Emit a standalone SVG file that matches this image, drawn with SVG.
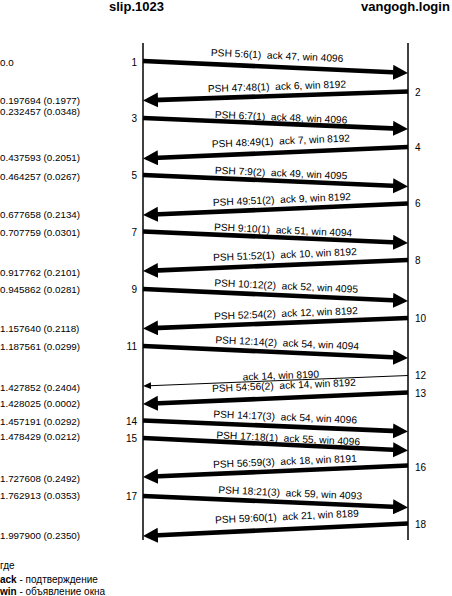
<svg xmlns="http://www.w3.org/2000/svg" width="452" height="596" viewBox="0 0 452 596">
<style>
text{font-family:"Liberation Sans",Arial,sans-serif;fill:#000}
.hdr{font-size:13px;font-weight:bold}
.t{font-size:9.8px}
.n{font-size:10px}
.nl{text-anchor:end}
.lbl{font-size:10.2px;text-anchor:middle;white-space:pre}
.life{stroke:#000;stroke-width:1.5}
.big{stroke:#000;stroke-width:4.6;fill:none;marker-end:url(#ah)}
.thin{stroke:#000;stroke-width:1;fill:none;marker-end:url(#ahs)}
.leg{font-size:10px}
</style>
<defs>
<marker id="ah" markerUnits="userSpaceOnUse" markerWidth="16" markerHeight="16" refX="5" refY="7.5" orient="auto">
<path d="M0,0 L15,7.5 L0,15 z" fill="#000"/>
</marker>
<marker id="ahs" markerUnits="userSpaceOnUse" markerWidth="10" markerHeight="8" refX="2" refY="3.5" orient="auto">
<path d="M0,0 L8,3.5 L0,7 z" fill="#000"/>
</marker>
</defs>
<g id="host-slip">
<text class="hdr" x="109" y="10.8">slip.1023</text>
<line class="life" x1="143" y1="43" x2="143" y2="540"/>
</g>
<g id="host-vangogh">
<text class="hdr" x="361" y="10.8">vangogh.login</text>
<line class="life" x1="408" y1="43" x2="408" y2="540"/>
</g>
<g id="times">
<text class="t" x="0" y="65.5">0.0</text>
<text class="t" x="0" y="103.5">0.197694 (0.1977)</text>
<text class="t" x="0" y="114.5">0.232457 (0.0348)</text>
<text class="t" x="0" y="160.5">0.437593 (0.2051)</text>
<text class="t" x="0" y="179.5">0.464257 (0.0267)</text>
<text class="t" x="0" y="217.5">0.677658 (0.2134)</text>
<text class="t" x="0" y="235.5">0.707759 (0.0301)</text>
<text class="t" x="0" y="275.5">0.917762 (0.2101)</text>
<text class="t" x="0" y="292.5">0.945862 (0.0281)</text>
<text class="t" x="0" y="331.5">1.157640 (0.2118)</text>
<text class="t" x="0" y="349.5">1.187561 (0.0299)</text>
<text class="t" x="0" y="390.5">1.427852 (0.2404)</text>
<text class="t" x="0" y="406.5">1.428025 (0.0002)</text>
<text class="t" x="0" y="424.5">1.457191 (0.0292)</text>
<text class="t" x="0" y="439.5">1.478429 (0.0212)</text>
<text class="t" x="0" y="481.5">1.727608 (0.2492)</text>
<text class="t" x="0" y="498.5">1.762913 (0.0353)</text>
<text class="t" x="0" y="538.5">1.997900 (0.2350)</text>
</g>
<g id="seq-left">
<text class="n nl" x="137" y="65.5">1</text>
<text class="n nl" x="137" y="121.5">3</text>
<text class="n nl" x="137" y="178.5">5</text>
<text class="n nl" x="137" y="235.5">7</text>
<text class="n nl" x="137" y="292.5">9</text>
<text class="n nl" x="137" y="349.5">11</text>
<text class="n nl" x="137" y="424.5">14</text>
<text class="n nl" x="137" y="441.5">15</text>
<text class="n nl" x="137" y="499.5">17</text>
</g>
<g id="seq-right">
<text class="n" x="415" y="95.5">2</text>
<text class="n" x="415" y="150.5">4</text>
<text class="n" x="415" y="207">6</text>
<text class="n" x="415" y="264">8</text>
<text class="n" x="415" y="321.5">10</text>
<text class="n" x="415" y="378.5">12</text>
<text class="n" x="415" y="396.5">13</text>
<text class="n" x="415" y="470.5">16</text>
<text class="n" x="415" y="527.5">18</text>
</g>
<g id="connectors">
<line class="big" x1="143" y1="61" x2="398" y2="72.55"/>
<line class="big" x1="408" y1="91.5" x2="153" y2="100.16"/>
<line class="big" x1="143" y1="118" x2="398" y2="128.58"/>
<line class="big" x1="408" y1="147" x2="153" y2="158.06"/>
<line class="big" x1="143" y1="175" x2="398" y2="186.07"/>
<line class="big" x1="408" y1="203.5" x2="153" y2="214.56"/>
<line class="big" x1="143" y1="231.5" x2="398" y2="242.56"/>
<line class="big" x1="408" y1="260" x2="153" y2="270.58"/>
<line class="big" x1="143" y1="289" x2="398" y2="300.55"/>
<line class="big" x1="408" y1="318" x2="153" y2="328.1"/>
<line class="big" x1="143" y1="346" x2="398" y2="357.55"/>
<line class="thin" x1="408" y1="375.5" x2="149" y2="385.76"/>
<line class="big" x1="408" y1="392.5" x2="153" y2="403.56"/>
<line class="big" x1="143" y1="420.5" x2="398" y2="431.08"/>
<line class="big" x1="143" y1="438" x2="398" y2="450.03"/>
<line class="big" x1="408" y1="465.5" x2="153" y2="476.56"/>
<line class="big" x1="143" y1="496" x2="398" y2="507.06"/>
<line class="big" x1="408" y1="523.5" x2="153" y2="535.53"/>
</g>
<g id="labels">
<text class="lbl" x="277" y="59" transform="rotate(2.59 277 59)">PSH 5:6(1)  ack 47, win 4096</text>
<text class="lbl" x="277" y="89.95" transform="rotate(-1.95 277 89.95)">PSH 47:48(1)  ack 6, win 8192</text>
<text class="lbl" x="281" y="120.7" transform="rotate(2.38 281 120.7)">PSH 6:7(1)  ack 48, win 4096</text>
<text class="lbl" x="281" y="144.5" transform="rotate(-2.48 281 144.5)">PSH 48:49(1)  ack 7, win 8192</text>
<text class="lbl" x="281" y="176.5" transform="rotate(2.48 281 176.5)">PSH 7:9(2)  ack 49, win 4095</text>
<text class="lbl" x="282" y="202.97" transform="rotate(-2.48 282 202.97)">PSH 49:51(2)  ack 9, win 8192</text>
<text class="lbl" x="283" y="233.5" transform="rotate(2.48 283 233.5)">PSH 9:10(1)  ack 51, win 4094</text>
<text class="lbl" x="285" y="258" transform="rotate(-2.38 285 258)">PSH 51:52(1)  ack 10, win 8192</text>
<text class="lbl" x="286" y="289.48" transform="rotate(2.59 286 289.48)">PSH 10:12(2)  ack 52, win 4095</text>
<text class="lbl" x="286" y="316.83" transform="rotate(-2.27 286 316.83)">PSH 52:54(2)  ack 12, win 8192</text>
<text class="lbl" x="287" y="346.52" transform="rotate(2.59 287 346.52)">PSH 12:14(2)  ack 54, win 4094</text>
<text class="lbl" x="281" y="379" transform="rotate(-2.27 281 379)">ack 14, win 8190</text>
<text class="lbl" x="284" y="388.88" transform="rotate(-2.48 284 388.88)">PSH 54:56(2)  ack 14, win 8192</text>
<text class="lbl" x="285" y="420.39" transform="rotate(2.38 285 420.39)">PSH 14:17(3)  ack 54, win 4096</text>
<text class="lbl" x="288" y="441.84" transform="rotate(2.70 288 441.84)">PSH 17:18(1)  ack 55, win 4096</text>
<text class="lbl" x="285" y="464.84" transform="rotate(-2.48 285 464.84)">PSH 56:59(3)  ack 18, win 8191</text>
<text class="lbl" x="290" y="496.38" transform="rotate(2.48 290 496.38)">PSH 18:21(3)  ack 59, win 4093</text>
<text class="lbl" x="287" y="520" transform="rotate(-2.70 287 520)">PSH 59:60(1)  ack 21, win 8189</text>
</g>
<g id="legend">
<text class="leg" x="0" y="568.5">где</text>
<text class="leg" x="0" y="582.5"><tspan font-weight="bold">ack</tspan> - подтверждение</text>
<text class="leg" x="0" y="595"><tspan font-weight="bold">win</tspan> - объявление окна</text>
</g>
</svg>
